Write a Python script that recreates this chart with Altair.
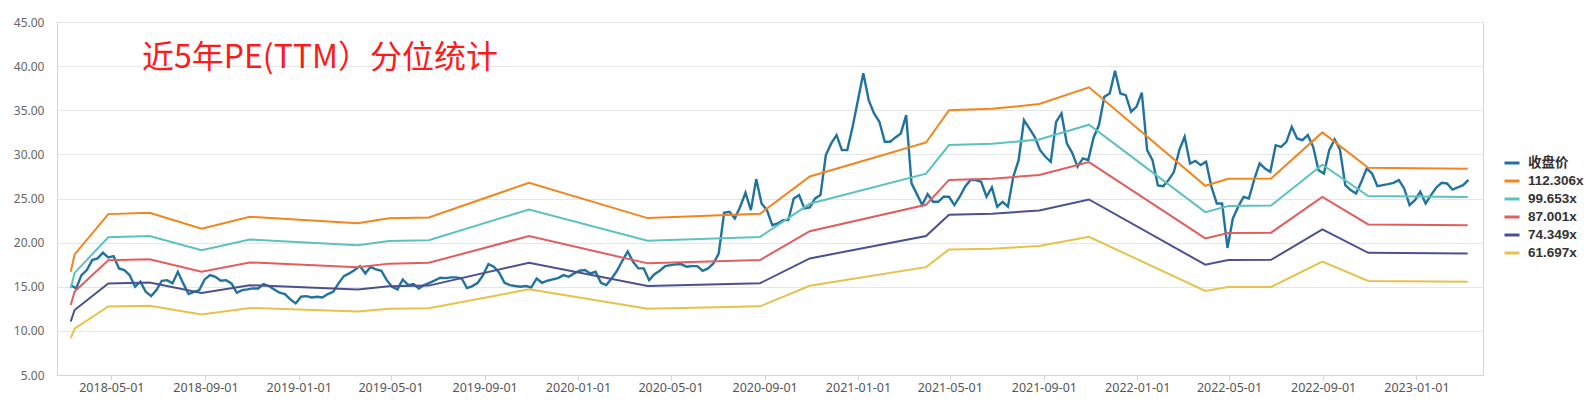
import altair as alt
import pandas as pd

# ---------------- data ----------------
title_text = "近5年PE(TTM）分位统计"

series_names = ["收盘价", "112.306x", "99.653x", "87.001x", "74.349x", "61.697x"]
series_colors = ["#21739f", "#f3851c", "#5bc2c1", "#e25d5d", "#4b5190", "#e6c24a"]

# weekly closing-price samples, first sample date below
price_start = "2018-03-09"
price_values = [
    15.19, 14.81, 16.32, 16.89, 18.02, 18.21, 18.85, 18.32, 18.47, 17.08,
    16.89, 16.32, 15.0, 15.57, 14.43, 13.94, 14.62, 15.68, 15.75, 15.38,
    16.7, 15.38, 14.17, 14.43, 14.62, 15.83, 16.32, 16.13, 15.68, 15.75,
    15.38, 14.32, 14.62, 14.7, 14.81, 14.81, 15.3, 15.08, 14.7, 14.32,
    14.17, 13.57, 13.11, 13.87, 13.94, 13.79, 13.87, 13.79, 14.17, 14.43,
    15.38, 16.21, 16.51, 16.89, 17.34, 16.51, 17.26, 16.96, 16.81, 15.75,
    15.0, 14.7, 15.83, 15.19, 15.3, 14.81, 15.19, 15.45,
    15.72, 16.02, 15.98, 16.06, 16.06, 15.94, 14.85, 15.08, 15.45, 16.32,
    17.57, 17.26, 16.59, 15.45, 15.19, 15.08, 15.0, 15.08, 14.92, 15.94,
    15.45, 15.68, 15.83, 15.98, 16.32, 16.13, 16.51, 16.81, 16.89, 16.51,
    16.7, 15.45, 15.19, 15.94, 16.81, 17.94, 19.0, 17.83, 17.08, 17.08,
    15.75, 16.43, 16.81, 17.34, 17.45, 17.53, 17.57, 17.26, 17.34, 17.34,
    16.81, 17.08, 17.64, 18.77, 23.38, 23.49, 22.74, 24.06, 25.65, 23.68,
    27.2, 24.44, 23.68, 21.98, 22.17, 22.55, 22.55, 25.0, 25.38, 23.87,
    23.99, 25.01, 25.39, 29.92, 31.24, 32.18, 30.48, 30.48, 33.13, 36.15,
    39.2, 36.15, 34.64, 33.69, 31.43, 31.43, 31.92, 32.37, 34.45, 26.71,
    25.5, 24.26, 25.5, 24.63, 24.63, 25.2, 25.2, 24.26, 25.2, 26.33,
    27.09, 27.09, 26.9, 25.2, 26.26, 24.07, 24.63, 24.07, 27.46, 29.35,
    33.88, 32.94, 32.0, 30.48, 29.73, 29.16, 33.69, 34.64, 31.24, 30.18,
    28.6, 29.54, 29.35, 31.92, 33.32, 36.52, 36.9, 39.47, 36.9, 36.71,
    34.83, 35.39, 37.0, 30.48,
    29.34, 26.48, 26.4, 27.08, 28.02, 30.48, 32.0, 28.97, 29.27, 28.78,
    29.16, 26.33, 24.44, 24.44, 19.4, 22.74, 24.06, 25.19, 25.0, 27.16,
    28.97, 28.4, 28.02, 31.04, 30.86, 31.42, 33.12, 31.8, 31.61, 32.18,
    30.86, 28.21, 27.83, 30.48, 31.69, 30.55, 26.51, 25.95, 25.57, 26.89,
    28.4, 27.83, 26.4, 26.51, 26.63, 26.78, 27.08, 26.14, 24.25, 24.81,
    25.76, 24.44, 25.38, 26.25, 26.78, 26.7, 26.02, 26.25, 26.51, 27.1,
]

# PE-band vertices
vertex_dates = [
    "2018-03-09", "2018-03-14", "2018-04-27", "2018-06-20", "2018-08-27",
    "2018-10-29", "2019-03-19", "2019-04-29", "2019-06-20", "2019-10-29",
    "2020-04-01", "2020-08-26", "2020-10-30", "2021-03-31", "2021-04-30",
    "2021-06-25", "2021-08-26", "2021-10-30", "2022-03-31", "2022-04-30",
    "2022-06-25", "2022-08-31", "2022-10-30", "2023-03-09",
]
band_112 = [16.7, 18.67, 23.23, 23.38, 21.57, 22.93, 22.2, 22.75, 22.86, 26.78,
            22.78, 23.27, 27.5, 31.35, 35.0, 35.16, 35.7, 37.6, 26.44, 27.23,
            27.27, 32.49, 28.48, 28.36]
band_99 = [14.82, 16.57, 20.61, 20.75, 19.14, 20.35, 19.70, 20.19, 20.28, 23.76,
           20.21, 20.65, 24.40, 27.82, 31.06, 31.20, 31.68, 33.36, 23.46, 24.16,
           24.20, 28.83, 25.27, 25.16]
band_87 = [12.94, 14.46, 18.0, 18.11, 16.71, 17.76, 17.20, 17.62, 17.71, 20.75,
           17.65, 18.03, 21.30, 24.29, 27.11, 27.24, 27.66, 29.13, 20.48, 21.10,
           21.13, 25.17, 22.06, 21.97]
band_74 = [11.06, 12.36, 15.38, 15.48, 14.28, 15.18, 14.70, 15.06, 15.13, 17.73,
           15.08, 15.40, 18.21, 20.75, 23.17, 23.28, 23.63, 24.89, 17.50, 18.03,
           18.05, 21.51, 18.85, 18.77]
band_61 = [9.17, 10.26, 12.76, 12.85, 11.85, 12.60, 12.20, 12.50, 12.56, 14.71,
           12.52, 12.78, 15.11, 17.22, 19.23, 19.32, 19.61, 20.66, 14.53, 14.96,
           14.98, 17.85, 15.65, 15.58]

x_tick_dates = [(2018, 5), (2018, 9), (2019, 1), (2019, 5), (2019, 9), (2020, 1),
                (2020, 5), (2020, 9), (2021, 1), (2021, 5), (2021, 9), (2022, 1),
                (2022, 5), (2022, 9), (2023, 1)]
y_ticks = [5, 10, 15, 20, 25, 30, 35, 40, 45]

# ---------------- tables ----------------
price_df = pd.DataFrame({
    "date": pd.date_range(price_start, periods=len(price_values), freq="7D").strftime("%Y-%m-%d"),
    "value": price_values,
    "series": series_names[0],
})
bands = [band_112, band_99, band_87, band_74, band_61]
band_df = pd.concat(
    [pd.DataFrame({"date": vertex_dates, "value": vals, "series": name})
     for name, vals in zip(series_names[1:], bands)],
    ignore_index=True,
)

axis_col = "#ccd6eb"

x_enc = alt.X(
    "date:T",
    scale=alt.Scale(
        type="utc",
        domain=[alt.DateTime(year=2018, month=2, date=19, utc=True),
                alt.DateTime(year=2023, month=3, date=29, utc=True)],
    ),
    axis=alt.Axis(
        values=[alt.DateTime(year=y, month=m, date=1, utc=True) for y, m in x_tick_dates],
        format="%Y-%m-%d", grid=False, title=None,
        tickSize=5, tickColor=axis_col, domainColor=axis_col,
        labelFont="Noto Sans", labelFontSize=12.5, labelColor="#555", labelPadding=1,
    ),
)
y_enc = alt.Y(
    "value:Q",
    scale=alt.Scale(domain=[5, 45], nice=False, zero=False),
    axis=alt.Axis(
        values=y_ticks, format=".2f", title=None, ticks=False,
        domainColor=axis_col, gridColor="#e6e6e6",
        labelFont="Noto Sans", labelFontSize=12, labelColor="#666", labelPadding=13,
    ),
)
color_enc = alt.Color(
    "series:N",
    scale=alt.Scale(domain=series_names, range=series_colors),
    sort=series_names,
    legend=alt.Legend(
        title=None, orient="none", legendX=1446, legendY=132,
        symbolType="stroke", symbolStrokeWidth=3, symbolSize=225,
        labelFont="Liberation Sans, Noto Sans CJK SC", labelFontSize=13.5,
        labelFontWeight="bold", labelColor="#333", labelOffset=7, rowPadding=2,
    ),
)

price_layer = alt.Chart(price_df).mark_line(strokeWidth=2.4).encode(
    x=x_enc, y=y_enc, color=color_enc, detail="series:N"
)
band_layer = alt.Chart(band_df).mark_line(strokeWidth=2).encode(
    x=x_enc, y=y_enc, color=color_enc, detail="series:N"
)
title_layer = alt.Chart(pd.DataFrame({"t": [title_text]})).mark_text(
    font="Noto Sans CJK SC", fontSize=32, color="#ff1a1a",
    align="left", baseline="middle"
).encode(x=alt.value(85), y=alt.value(36), text="t:N")

chart = alt.layer(price_layer, band_layer, title_layer).properties(
    width=1426, height=353,
    autosize=alt.AutoSizeParams(type="none"),
    padding={"left": 49, "top": 14, "right": 102, "bottom": 20},
    background="white",
).configure_view(stroke=axis_col, strokeWidth=1)

chart.save("out.html", embed_options={"renderer": "svg", "actions": False})
